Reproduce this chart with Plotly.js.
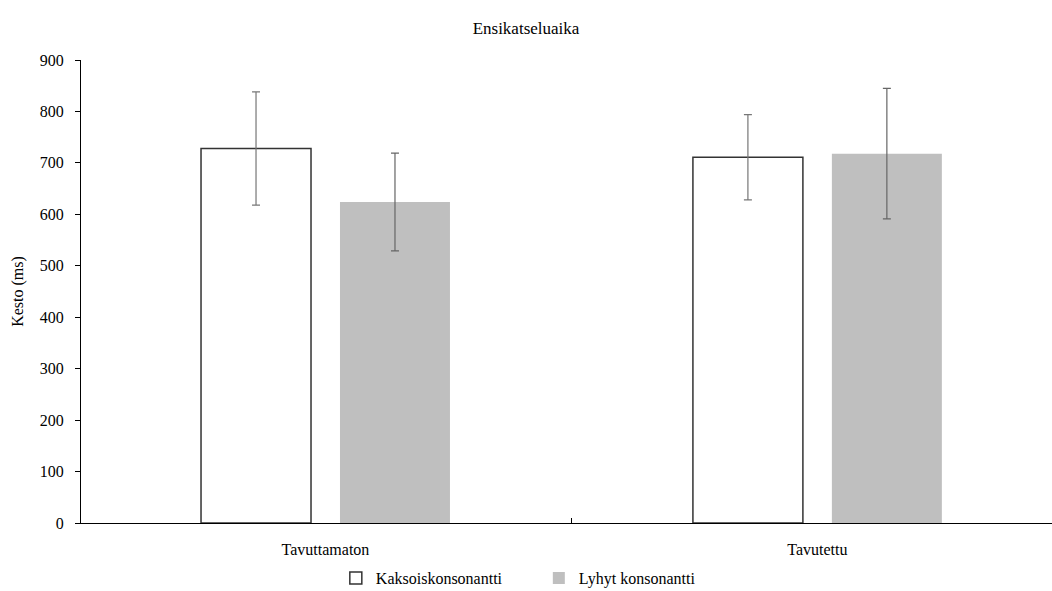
<!DOCTYPE html>
<html>
<head>
<meta charset="utf-8">
<script src="https://cdn.plot.ly/plotly-3.0.1.min.js"></script>
<style>html,body{margin:0;padding:0;background:#fff;}#chart{width:1052px;height:591px;}</style>
</head>
<body>
<div id="chart"></div>
<script>
const categories = ["Tavuttamaton", "Tavutettu"];
const seriesNames = ["Kaksoiskonsonantti", "Lyhyt konsonantti"];
const kaksoisValues = [728, 711];
const kaksoisErrors = [110, 83];
const lyhytValues = [624, 718];
const lyhytErrors = [95, 127];

const font = "'Liberation Serif', 'Times New Roman', serif";

const traces = [
  {
    type: "bar", name: seriesNames[0], x: categories, y: kaksoisValues,
    width: 0.2236, offset: -0.253,
    marker: {color: "#ffffff", line: {color: "#333333", width: 1.5}},
    error_y: {type: "data", array: kaksoisErrors, visible: true, color: "#777777", thickness: 1.2, width: 4}
  },
  {
    type: "bar", name: seriesNames[1], x: categories, y: lyhytValues,
    width: 0.2236, offset: 0.0295,
    marker: {color: "#bfbfbf", line: {width: 0}},
    error_y: {type: "data", array: lyhytErrors, visible: true, color: "#666666", thickness: 1.2, width: 4}
  }
];

const layout = {
  width: 1052, height: 591,
  margin: {l: 81, r: 0, t: 60, b: 68, autoexpand: false},
  paper_bgcolor: "#ffffff", plot_bgcolor: "#ffffff",
  font: {family: font, size: 16, color: "#000"},
  title: {text: "Ensikatseluaika", font: {family: font, size: 17, color: "#000"}, x: 0.5, xanchor: "center", y: 0.953, yanchor: "middle"},
  barmode: "group",
  showlegend: true,
  legend: {orientation: "h", x: 0.4715, xanchor: "center", yref: "container", y: 0.022, yanchor: "middle", font: {family: font, size: 16}, itemwidth: 30, entrywidth: 158, entrywidthmode: "pixels", traceorder: "normal"},
  xaxis: {
    type: "category", range: [-0.497, 1.477], automargin: false,
    showline: true, linecolor: "#000", linewidth: 1,
    ticks: "inside", tickson: "boundaries", ticklen: 5, tickcolor: "#000",
    showgrid: false, zeroline: false,
    tickfont: {family: font, size: 16}, ticklabelstandoff: 12
  },
  yaxis: {
    range: [0, 900], dtick: 100, automargin: false,
    showline: true, linecolor: "#000", linewidth: 1,
    ticks: "outside", ticklen: 5, tickcolor: "#000",
    showgrid: false, zeroline: false,
    tickfont: {family: font, size: 16}, ticklabelstandoff: 8,
    title: {text: "Kesto (ms)", font: {family: font, size: 16}, standoff: 12}
  }
};

Plotly.newPlot("chart", traces, layout, {displayModeBar: false, staticPlot: true});
</script>
</body>
</html>
